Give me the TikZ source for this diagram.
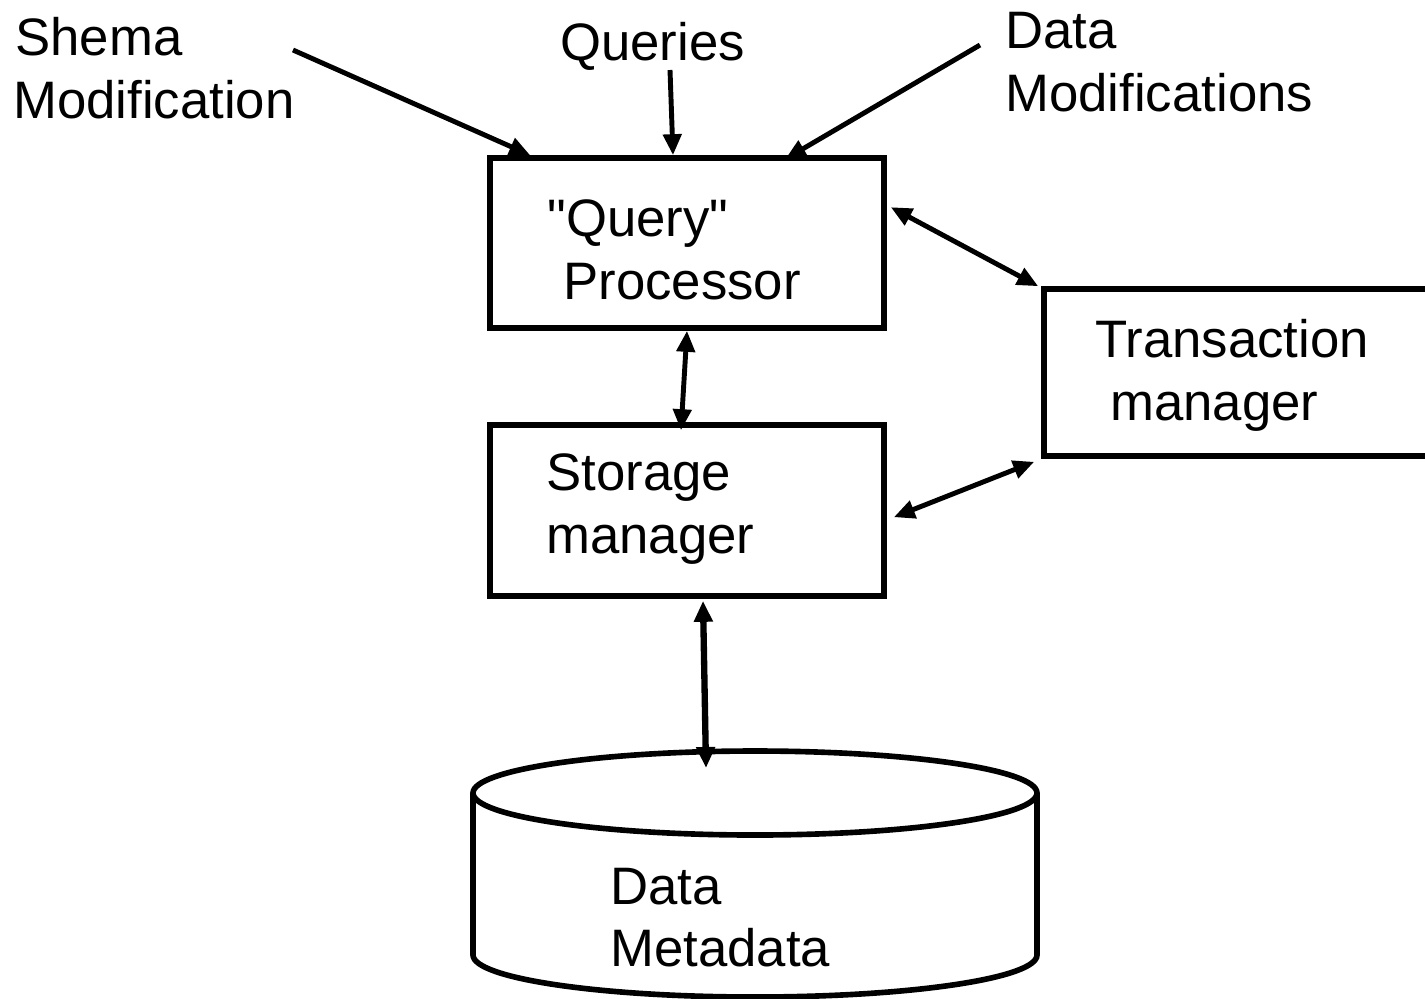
\documentclass[tikz,border=0pt]{standalone}
\usepackage{fontspec}
\setmainfont{Liberation Sans}[Ligatures=TeXOff]
\usetikzlibrary{arrows.meta}
\tikzset{
  box/.style = {draw, line width=3.2pt, inner sep=0pt},
  lbl/.style = {anchor=base west, inner sep=0pt, font=\fontsize{30}{36}\selectfont},
  arr/.style = {line width=2.8pt, -{Triangle[length=0.42cm,width=0.36cm]}},
  darr/.style = {line width=2.8pt, {Triangle[length=0.42cm,width=0.36cm]}-{Triangle[length=0.42cm,width=0.36cm]}}
}
\begin{document}
\begin{tikzpicture}
\useasboundingbox (0,0) rectangle (28.5,-19.96);
%%
%% bokser
\node [box, minimum width=7.88cm, minimum height=3.4cm] (qp) at (13.74,-4.86) {};
\node [box, minimum width=7.88cm, minimum height=3.42cm] (sm) at (13.74,-10.21) {};
\node [box, minimum width=8cm, minimum height=3.34cm] (tm) at (24.88,-7.45) {};
%% database
\draw [line width=3.2pt] (9.46,-15.86) -- (9.46,-19.1)
      arc [start angle=180, end angle=360, x radius=5.64, y radius=0.84] -- (20.74,-15.86);
\draw [line width=3.2pt] (15.1,-15.86) ellipse [x radius=5.64, y radius=0.84];
\coordinate (db) at (14.12,-15.36);
%%
%% tekst
\node [lbl] (shema) at (0.3,-1.1) {Shema};
\node [lbl] (modif) at (0.26,-2.36) {Modification};
\node [lbl] (queries) at (11.2,-1.2) {Queries};
\node [lbl] (data) at (20.1,-0.96) {Data};
\node [lbl] (datamod) at (20.1,-2.22) {Modifications};
\node [lbl] at (10.94,-4.72) {"Query"};
\node [lbl] at (11.26,-5.98) {Processor};
\node [lbl] at (10.92,-9.8) {Storage};
\node [lbl] at (10.92,-11.06) {manager};
\node [lbl] at (21.9,-7.14) {Transaction};
\node [lbl] at (22.2,-8.4) {manager};
\node [lbl] at (12.2,-18.08) {Data};
\node [lbl] at (12.2,-19.32) {Metadata};
%%
%% piler inn
\coordinate (s1) at (5.86,-1.0);
\coordinate (q1) at (13.4,-1.4);
\coordinate (d1) at (19.6,-0.9);
\draw [arr] (s1) -- ([xshift=0.86cm]qp.north west);
\draw [arr] (q1) -- ([xshift=-0.28cm]qp.north);
\draw [arr] (d1) -- ([xshift=5.96cm,yshift=-0.08cm]qp.north west);
%% piler mellom boksene
\draw [darr] (qp.south) -- ([xshift=-0.12cm,yshift=-0.16cm]sm.north);
\draw [darr] ([xshift=0.08cm,yshift=-1.04cm]qp.north east) -- ([xshift=-0.06cm]tm.north west);
\draw [darr] ([xshift=0.14cm,yshift=-1.9cm]sm.north east) -- ([xshift=-0.14cm,yshift=-0.06cm]tm.south west);
\draw [darr, line width=3.6pt] ([xshift=0.32cm,yshift=-0.04cm]sm.south) -- (db);
%%
\end{tikzpicture}
\end{document}
